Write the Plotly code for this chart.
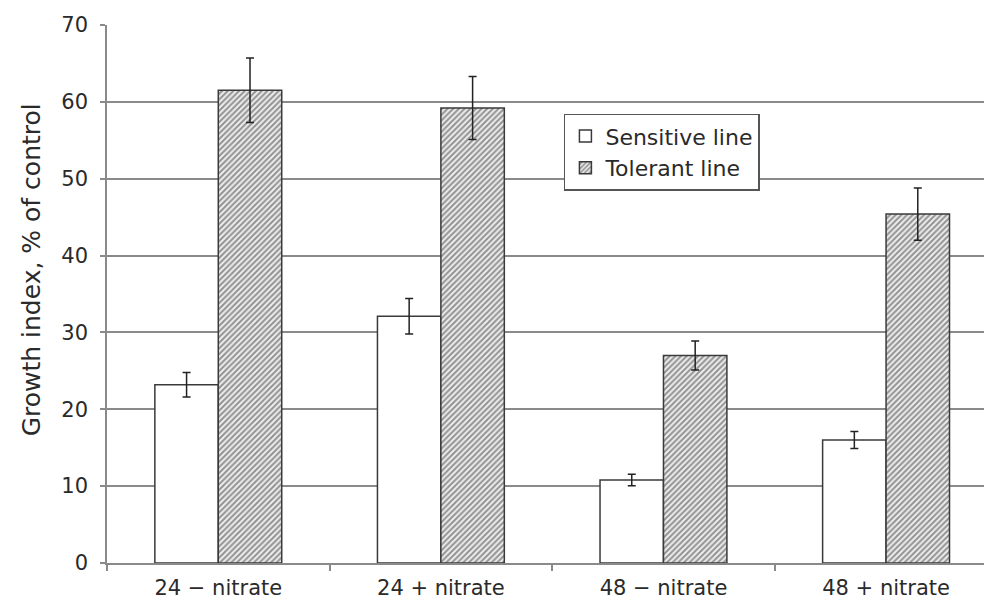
import plotly.graph_objects as go

# Growth index by treatment, two lines
categories = ["24 \u2212 nitrate", "24 + nitrate", "48 \u2212 nitrate", "48 + nitrate"]
sensitive = [23.2, 32.1, 10.8, 16.0]
sensitive_err = [1.6, 2.3, 0.75, 1.1]
tolerant = [61.5, 59.2, 27.0, 45.4]
tolerant_err = [4.2, 4.1, 1.9, 3.4]
y_ticks = [0, 10, 20, 30, 40, 50, 60, 70]
y_title = "Growth index, % of control"

FONT = "DejaVu Sans"
TEXT = "#2a2a2a"
GRID = "#8a8a8a"

fig = go.Figure()
fig.add_trace(go.Bar(
    name="Sensitive line", x=categories, y=sensitive,
    marker=dict(color="white", line=dict(color="#3a3a3a", width=1.5)),
    error_y=dict(type="data", array=sensitive_err, color="#222", thickness=1.5, width=4),
))
fig.add_trace(go.Bar(
    name="Tolerant line", x=categories, y=tolerant,
    marker=dict(color="white", line=dict(color="#3a3a3a", width=1.5),
                pattern=dict(shape="/", size=4, solidity=0.5,
                             fgcolor="#353535", bgcolor="#eeeeee")),
    error_y=dict(type="data", array=tolerant_err, color="#222", thickness=1.5, width=4),
))

# Vertical axis title, placed slightly above the axis middle
fig.add_annotation(
    text=y_title, textangle=-90,
    xref="paper", yref="paper", x=-0.086, y=0.545,
    xanchor="center", yanchor="middle", showarrow=False,
    font=dict(family=FONT, size=25, color=TEXT),
)

fig.update_layout(
    width=989, height=605,
    margin=dict(l=107, r=5, t=25, b=40),
    paper_bgcolor="white", plot_bgcolor="white",
    barmode="group", bargap=0.43, bargroupgap=0,
    font=dict(family=FONT, size=21, color=TEXT),
    showlegend=True,
    legend=dict(
        x=0.521, y=0.835, xanchor="left", yanchor="top",
        bgcolor="white", bordercolor="#555", borderwidth=1.5,
        font=dict(family=FONT, size=22, color=TEXT),
        tracegroupgap=0, itemwidth=30,
    ),
    xaxis=dict(
        range=[-0.5, 3.44],
        showline=True, linecolor=GRID, linewidth=1.5,
        ticks="outside", tickson="boundaries", ticklen=6, tickcolor=GRID, tickwidth=1.5,
        showgrid=False,
        ticklabelstandoff=5,
        tickfont=dict(family=FONT, size=21, color=TEXT),
    ),
    yaxis=dict(
        range=[0, 70], tickvals=y_ticks,
        showline=True, linecolor=GRID, linewidth=1.5,
        ticks="outside", ticklen=5, tickcolor=GRID, tickwidth=1.5,
        showgrid=True, gridcolor=GRID, gridwidth=1.5,
        zeroline=False,
        ticklabelstandoff=8,
        tickfont=dict(family=FONT, size=21, color=TEXT),
    ),
)

fig.write_html("out.html")
